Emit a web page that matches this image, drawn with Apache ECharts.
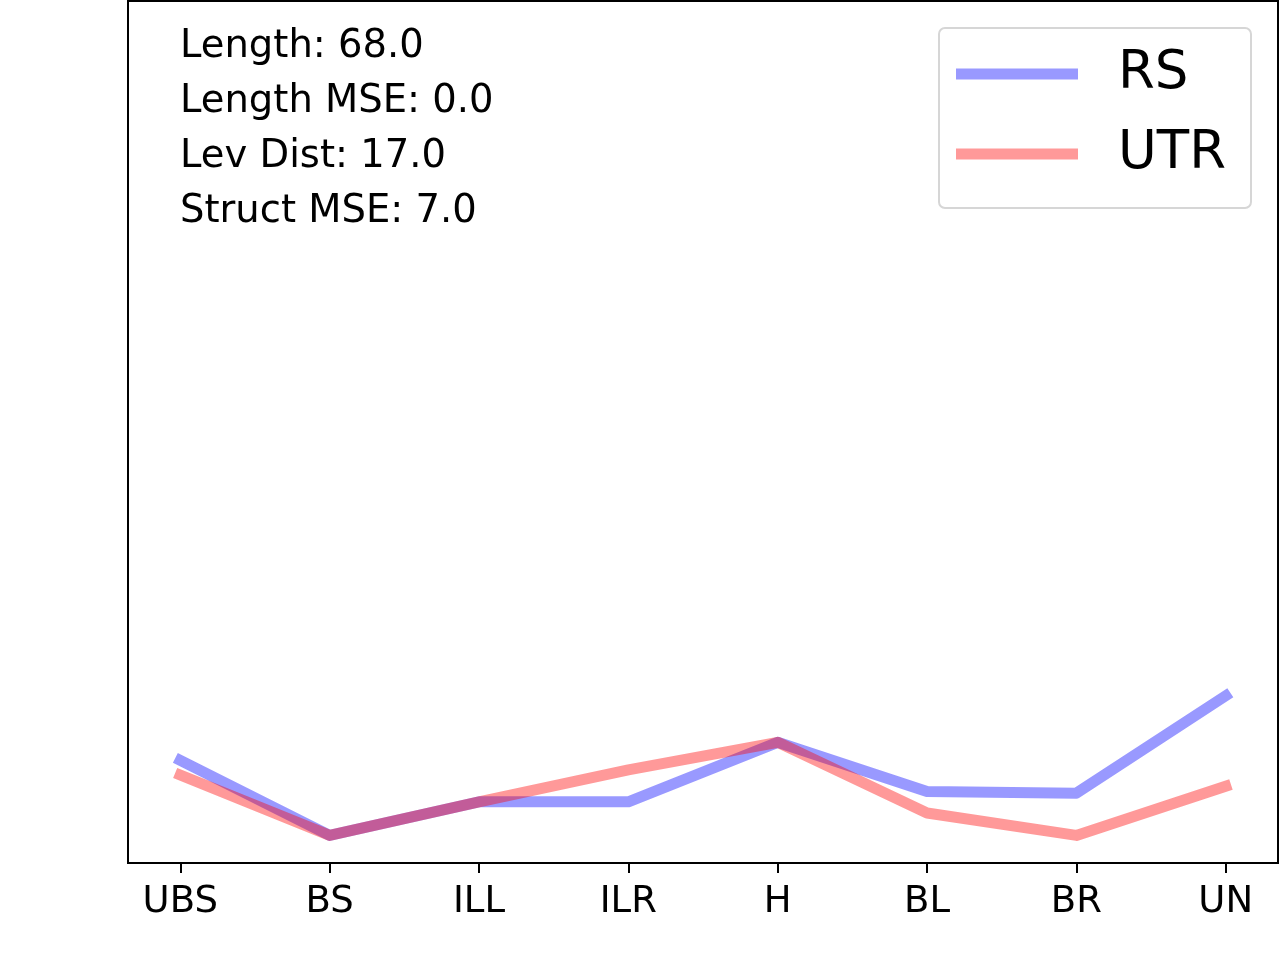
<!DOCTYPE html>
<html>
<head>
<meta charset="utf-8">
<script src="https://cdn.jsdelivr.net/npm/echarts@6/dist/echarts.min.js"></script>
<style>
html,body{margin:0;padding:0;background:#fff;}
#chart{width:1280px;height:960px;}
</style>
</head>
<body>
<div id="chart"></div>
<script>
// ---- data ----
const categories = ['UBS', 'BS', 'ILL', 'ILR', 'H', 'BL', 'BR', 'UN'];
const rsValues  = [11.9, 3.2, 7.1, 7.1, 14.0, 8.3, 8.1, 19.4];
const utrValues = [10.2, 3.2, 7.1, 10.8, 14.0, 5.8, 3.2, 8.9];
const seriesNames = ['RS', 'UTR'];
const statLabels = ['Length', 'Length MSE', 'Lev Dist', 'Struct MSE'];
const statValues = ['68.0', '0.0', '17.0', '7.0'];

const FONT = 'DejaVu Sans';
const tickIdx = categories.map((c, i) => i);
const toPairs = arr => arr.map((v, i) => [i, v]);

const chart = echarts.init(document.getElementById('chart'));
chart.setOption({
  animation: false,
  backgroundColor: '#fff',
  title: {
    text: statLabels.map((l, i) => l + ': ' + statValues[i]).join('\n'),
    left: 175,
    top: 14,
    textStyle: { fontFamily: FONT, fontSize: 38.5, fontWeight: 'normal', color: '#000', lineHeight: 55 }
  },
  legend: {
    orient: 'vertical',
    left: 939,
    top: 28,
    padding: [16, 25, 24, 17],
    itemGap: 20,
    itemWidth: 122,
    itemHeight: 11,
    borderColor: '#d6d6d6',
    borderWidth: 2,
    borderRadius: 6,
    backgroundColor: 'rgba(255,255,255,0.8)',
    textStyle: { fontFamily: FONT, fontSize: 53, color: '#000', lineHeight: 60, padding: [0, 0, 0, 35] },
    data: [
      { name: seriesNames[0], icon: 'rect', itemStyle: { color: 'rgba(0,0,255,0.4)' } },
      { name: seriesNames[1], icon: 'rect', itemStyle: { color: 'rgba(255,0,0,0.4)' } }
    ]
  },
  grid: {
    left: 128, right: 2, top: 1, bottom: 97,
    show: true, borderColor: '#000', borderWidth: 2, backgroundColor: 'transparent'
  },
  xAxis: {
    type: 'value',
    min: -0.35,
    max: 7.35,
    axisLine: { show: false },
    splitLine: { show: false },
    axisTick: { show: true, length: 10, lineStyle: { color: '#000', width: 2 }, customValues: tickIdx },
    axisLabel: {
      customValues: tickIdx,
      formatter: v => categories[Math.round(v)] || '',
      fontFamily: FONT, fontSize: 37, color: '#000', margin: 21
    }
  },
  yAxis: {
    type: 'value',
    min: 0,
    max: 100,
    show: false
  },
  series: [
    {
      name: seriesNames[0], type: 'line', data: toPairs(rsValues),
      showSymbol: false, symbol: 'none',
      lineStyle: { color: 'rgba(0,0,255,0.4)', width: 11, cap: 'square', join: 'round' },
      itemStyle: { color: 'rgba(0,0,255,0.4)' }
    },
    {
      name: seriesNames[1], type: 'line', data: toPairs(utrValues),
      showSymbol: false, symbol: 'none',
      lineStyle: { color: 'rgba(255,0,0,0.4)', width: 11, cap: 'square', join: 'round' },
      itemStyle: { color: 'rgba(255,0,0,0.4)' }
    }
  ]
});
</script>
</body>
</html>
